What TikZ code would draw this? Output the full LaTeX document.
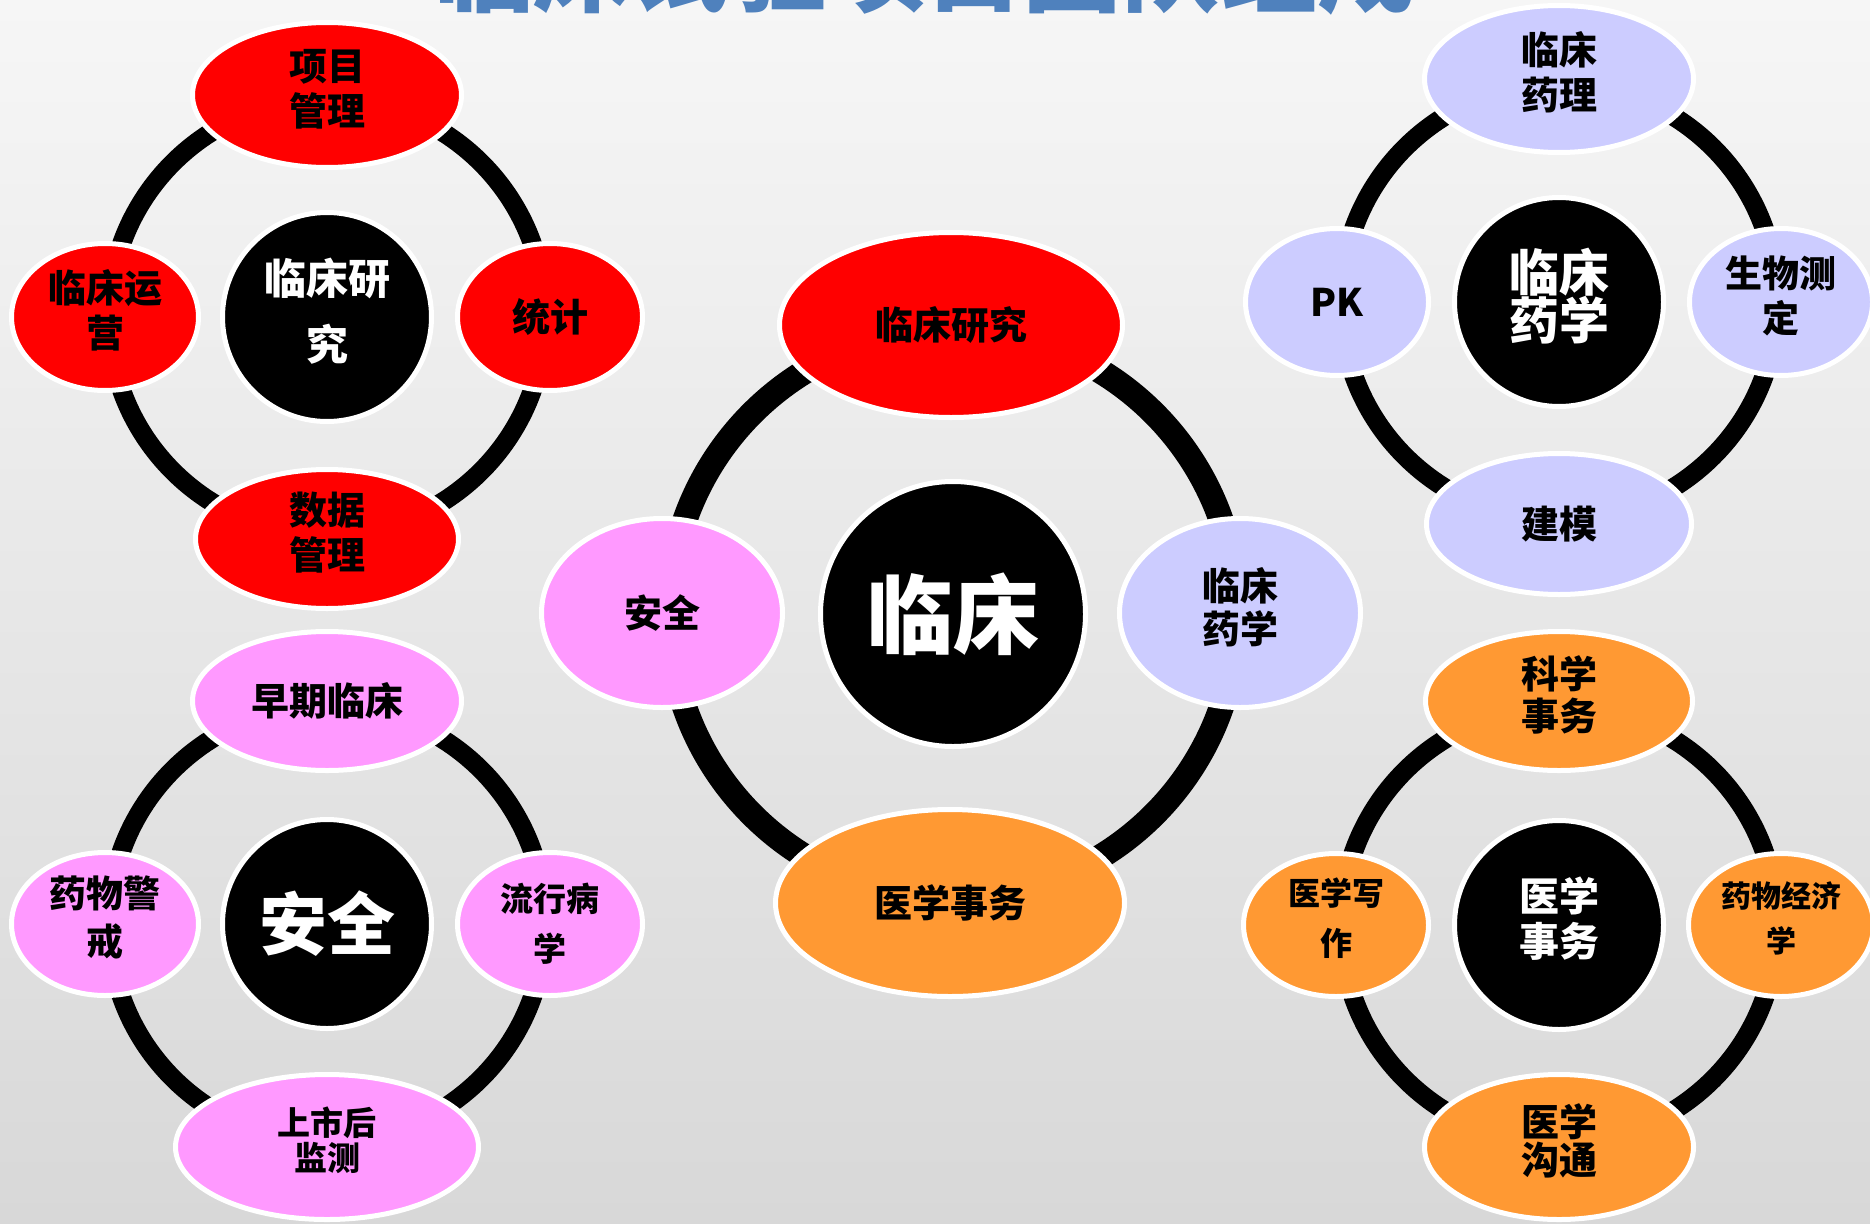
\documentclass[tikz,border=0pt]{standalone}
\usepackage{fontspec}
\setmainfont{Noto Sans CJK SC}
\usetikzlibrary{shapes.geometric}
\definecolor{cred}{HTML}{FF0000}
\definecolor{cpink}{HTML}{FF99FF}
\definecolor{clav}{HTML}{CCCCFF}
\definecolor{corange}{HTML}{FF9933}
\definecolor{ctitle}{HTML}{4F81BD}
\definecolor{bgtop}{HTML}{F6F6F6}
\definecolor{bgbot}{HTML}{D8D8D8}
\newcommand\lowstrut{\rule[-16pt]{0pt}{1pt}}
\tikzset{
  ring/.style={draw=black, line width=19pt},
  mainring/.style={draw=black, line width=25pt},
  sat/.style={ellipse, draw=white, line width=5pt, inner sep=0pt, align=center,
    text=black, font=\bfseries\fontsize{38}{45}\selectfont},
  hub/.style={circle, draw=white, line width=5pt, fill=black, text=white,
    inner sep=0pt, align=center, minimum size=209pt},
}
\begin{document}
\begin{tikzpicture}[x=1pt,y=-1pt]
\clip (0,0) rectangle (1870,1223);
\fill[top color=bgtop, bottom color=bgbot] (0,0) rectangle (1870,1223);
\node[anchor=base, text=ctitle, inner sep=0pt, font=\bfseries\fontsize{98}{98}\selectfont] (title) at (925,5) {临床试验项目团队组成};

% cluster centres
\coordinate (C1) at (327,317);
\coordinate (C2) at (327,924);
\coordinate (C3) at (1559,302);
\coordinate (C4) at (1559,925);
\coordinate (M)  at (953,614);

% rings
\draw[ring] (C1) circle[radius=218pt];
\draw[ring] (C2) circle[radius=218pt];
\draw[ring] (C3) circle[radius=218pt];
\draw[ring] (C4) circle[radius=218pt];
\draw[mainring] (M) circle[radius=284pt];

% cluster 1
\node[sat, fill=cred, minimum width=269pt, minimum height=145pt] (c1t) at (327,95) {项目\\管理\lowstrut};
\node[sat, fill=cred, minimum width=263pt, minimum height=139pt] (c1b) at (327,539) {数据\\管理\lowstrut};
\node[sat, fill=cred, minimum width=187pt, minimum height=147pt] (c1l) at (105,317) {临床运\\营\lowstrut};
\node[sat, fill=cred, minimum width=185pt, minimum height=147pt] (c1r) at (550,317) {统计};
\node[hub, font=\bfseries\fontsize{42}{66}\selectfont] (h1) at (C1) {临床研\\究\lowstrut};

% cluster 2
\node[sat, fill=cpink, minimum width=269pt, minimum height=139pt] (c2t) at (327,701) {早期临床};
\node[sat, fill=cpink, minimum width=303pt, minimum height=145pt, font=\bfseries\fontsize{33}{35}\selectfont] (c2b) at (327,1147) {上市后\\监测\lowstrut};
\node[sat, fill=cpink, minimum width=187pt, minimum height=143pt, font=\bfseries\fontsize{37}{48}\selectfont] (c2l) at (105,924) {药物警\\戒\lowstrut};
\node[sat, fill=cpink, minimum width=185pt, minimum height=143pt, font=\bfseries\fontsize{33}{50}\selectfont] (c2r) at (550,924) {流行病\\学};
\node[hub, font=\bfseries\fontsize{68}{68}\selectfont] (h2) at (C2) {安全};

% cluster 3
\node[sat, fill=clav, minimum width=269pt, minimum height=147pt] (c3t) at (1559,79) {临床\\药理\lowstrut};
\node[sat, fill=clav, minimum width=265pt, minimum height=141pt] (c3b) at (1559,524) {建模};
\node[sat, fill=clav, minimum width=183pt, minimum height=147pt] (c3l) at (1337,302) {PK};
\node[sat, fill=clav, minimum width=183pt, minimum height=147pt, font=\bfseries\fontsize{37}{45}\selectfont] (c3r) at (1781,302) {生物测\\定\lowstrut};
\node[hub, font=\bfseries\fontsize{50}{48}\selectfont] (h3) at (C3) {临床\\药学\lowstrut};

% cluster 4
\node[sat, fill=corange, minimum width=267pt, minimum height=139pt, font=\bfseries\fontsize{38}{42}\selectfont] (c4t) at (1559,701) {科学\\事务\lowstrut};
\node[sat, fill=corange, minimum width=269pt, minimum height=145pt, font=\bfseries\fontsize{38}{38}\selectfont] (c4b) at (1559,1147) {医学\\沟通\lowstrut};
\node[sat, fill=corange, minimum width=185pt, minimum height=143pt, font=\bfseries\fontsize{32}{50}\selectfont] (c4l) at (1336,925) {医学写\\作\lowstrut};
\node[sat, fill=corange, minimum width=185pt, minimum height=143pt, font=\bfseries\fontsize{30}{45}\selectfont] (c4r) at (1781,925) {药物经济\\学\lowstrut};
\node[hub, font=\bfseries\fontsize{40}{45}\selectfont] (h4) at (C4) {医学\\事务\lowstrut};

% main cluster
\node[sat, fill=cred, minimum width=343pt, minimum height=185pt] (mt) at (951,325) {临床研究};
\node[sat, fill=cpink, minimum width=241pt, minimum height=189pt] (ml) at (662,613) {安全};
\node[sat, fill=clav, minimum width=241pt, minimum height=189pt, font=\bfseries\fontsize{38}{43}\selectfont] (mr) at (1240,613) {临床\\药学\lowstrut};
\node[sat, fill=corange, minimum width=349pt, minimum height=187pt] (mb) at (950,903) {医学事务};
\node[hub, minimum size=265pt, font=\bfseries\fontsize{86}{86}\selectfont] (hm) at (M) {临床};
\end{tikzpicture}
\end{document}
